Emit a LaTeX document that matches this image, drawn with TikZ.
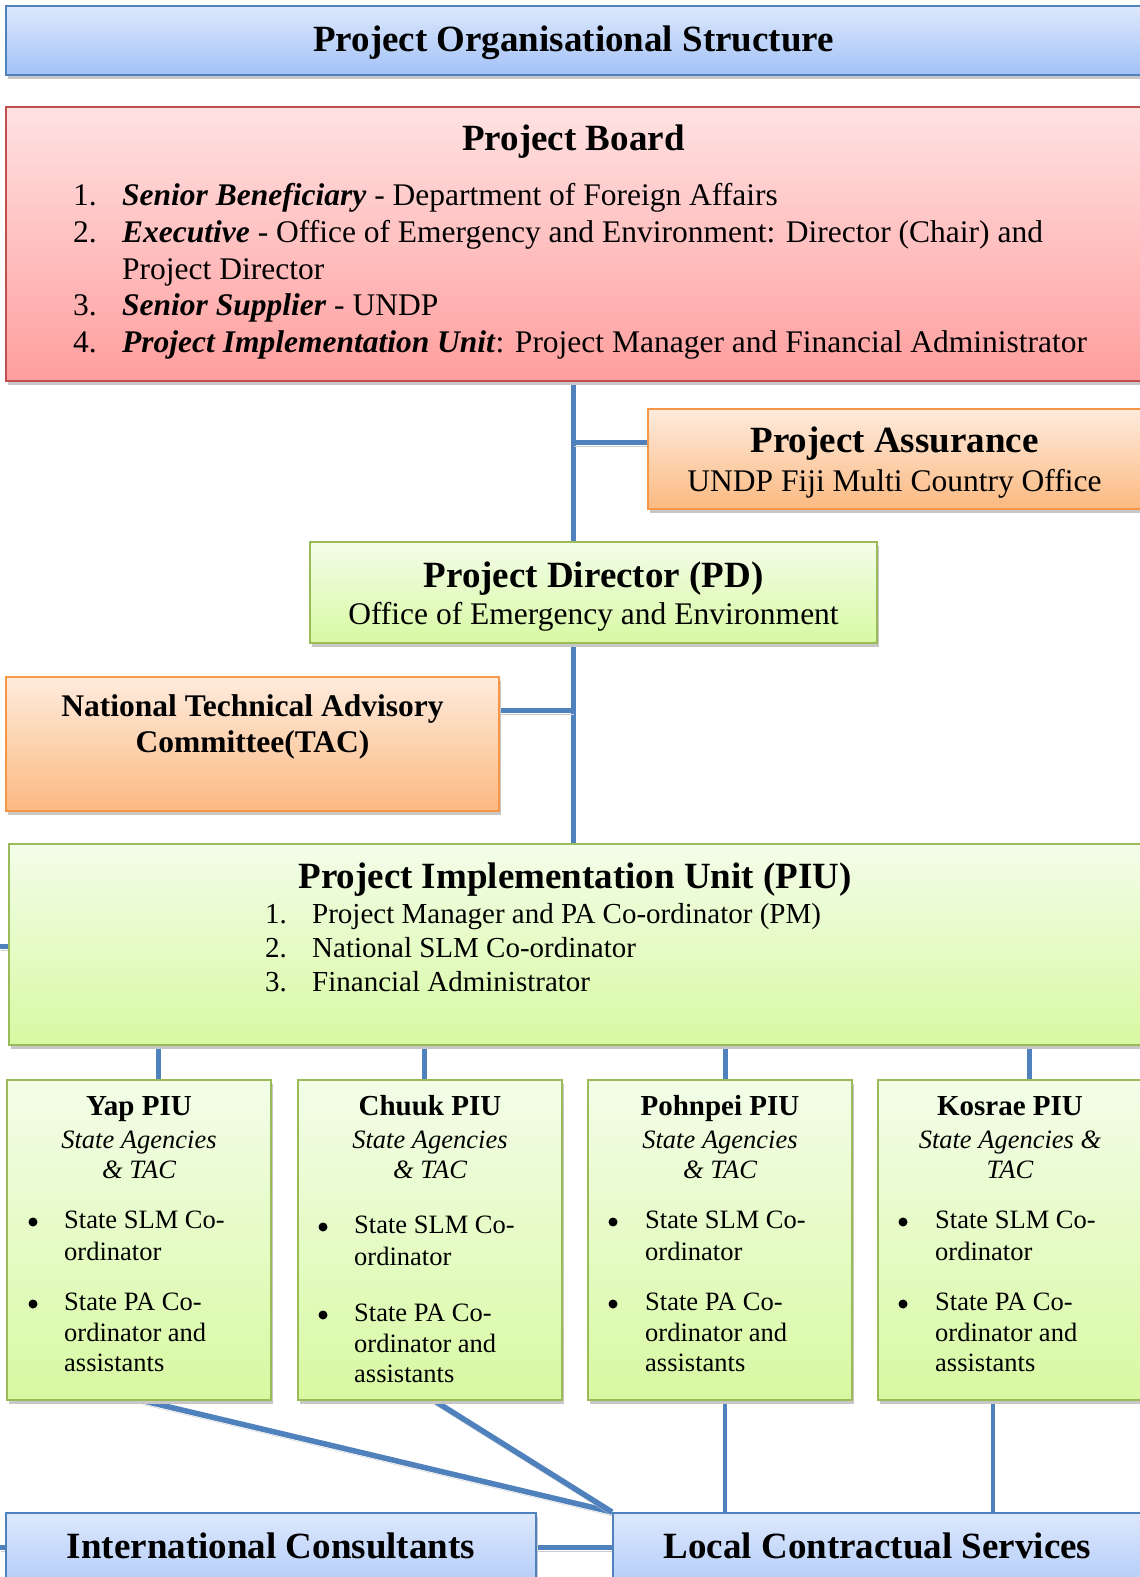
\documentclass[tikz,border=0pt]{standalone}
\usepackage{fontspec}
\setmainfont{Liberation Serif}
\usetikzlibrary{shadows,backgrounds}
\definecolor{LinkClr}{HTML}{4F81BD}
\definecolor{BlueLine}{HTML}{4F81BD}
\definecolor{BlueTop}{HTML}{DDE8FC}
\definecolor{BlueBot}{HTML}{A3C2F7}
\definecolor{RedLine}{HTML}{C0504D}
\definecolor{RedTop}{HTML}{FFE2E2}
\definecolor{RedBot}{HTML}{FF9E9E}
\definecolor{OrgLine}{HTML}{F79646}
\definecolor{OrgTop}{HTML}{FEEBDD}
\definecolor{OrgBot}{HTML}{FBB981}
\definecolor{GrnLine}{HTML}{9BBB59}
\definecolor{GrnTop}{HTML}{F3FDE9}
\definecolor{GrnBot}{HTML}{D8F9A2}
\newcommand\HeadFont{\fontsize{37}{42}\selectfont\bfseries}
\newcommand\BodyFont{\fontsize{31.5}{36}\selectfont}
\newcommand\ListFont{\fontsize{29}{34}\selectfont}
\newcommand\StateFont{\fontsize{26.5}{31}\selectfont}

\begin{document}
\begin{tikzpicture}[x=1pt,y=-1pt,
  box/.style={line width=2pt,anchor=north west,inner sep=0pt,
    drop shadow={shadow xshift=1.5pt,shadow yshift=-4pt,fill=black!22,opacity=1}},
  bluebox/.style={box,draw=BlueLine,top color=BlueTop,bottom color=BlueBot},
  redbox/.style={box,draw=RedLine,top color=RedTop,bottom color=RedBot},
  orgbox/.style={box,draw=OrgLine,top color=OrgTop,bottom color=OrgBot},
  grnbox/.style={box,draw=GrnLine,top color=GrnTop,bottom color=GrnBot},
  link/.style={draw=LinkClr,line width=5pt,
    preaction={draw=black!20,transform canvas={shift={(0.5pt,-4pt)}}}},
  txt/.style={anchor=base,inner sep=0pt},
  numtxt/.style={anchor=base east,inner sep=0pt},
  itemtxt/.style={anchor=base west,inner sep=0pt},
  dot/.style={circle,fill=black,inner sep=0pt,minimum size=9}]
\useasboundingbox (0,0) rectangle (1140,1577);

% title
\node[bluebox,minimum width=1135,minimum height=69] (title) at (5,5) {};
\node[txt,font=\HeadFont] (titletxt) at (title.center |- 0,51) {Project Organisational Structure};

% project board
\node[redbox,minimum width=1135,minimum height=274] (pb) at (5,106) {};
\node[txt,font=\HeadFont] (pbtxt) at (pb.center |- 0,150) {Project Board};
\node[numtxt,font=\BodyFont] (pbn1) at (97,205.5) {1.};
\node[itemtxt,font=\BodyFont] (pbi1) at (122,205.5) {\textbf{\textit{Senior Beneficiary}} - Department of Foreign Affairs};
\node[numtxt,font=\BodyFont] (pbn2) at (97,242) {2.};
\node[itemtxt,font=\BodyFont] (pbi2) at (122,242) {\textbf{\textit{Executive}} - Office of Emergency and Environment: Director (Chair) and};
\node[itemtxt,font=\BodyFont] (pbi2b) at (122,279) {Project Director};
\node[numtxt,font=\BodyFont] (pbn3) at (97,315.5) {3.};
\node[itemtxt,font=\BodyFont] (pbi3) at (122,315.5) {\textbf{\textit{Senior Supplier}} - UNDP};
\node[numtxt,font=\BodyFont] (pbn4) at (97,352.5) {4.};
\node[itemtxt,font=\BodyFont] (pbi4) at (122,352.5) {\textbf{\textit{Project Implementation Unit}}: Project Manager and Financial Administrator};

% project assurance
\node[orgbox,minimum width=493,minimum height=100] (pa) at (647,408) {};
\node[txt,font=\HeadFont] (patxt) at (pa.center |- 0,452.5) {Project Assurance};
\node[txt,font=\BodyFont] (pasub) at (pa.center |- 0,491.5) {UNDP Fiji Multi Country Office};

% project director
\node[grnbox,minimum width=567,minimum height=101] (pd) at (309,541) {};
\node[txt,font=\HeadFont] (pdtxt) at (pd.center |- 0,587.5) {Project Director (PD)};
\node[txt,font=\BodyFont] (pdsub) at (pd.center |- 0,624.5) {Office of Emergency and Environment};

% technical advisory committee
\node[orgbox,minimum width=493,minimum height=134] (tac) at (5,676) {};
\node[txt,font=\BodyFont\bfseries] (tactxt) at (tac.center |- 0,716.5) {National Technical Advisory};
\node[txt,font=\BodyFont\bfseries] (tacsub) at (tac.center |- 0,752) {Committee(TAC)};

% implementation unit
\node[grnbox,minimum width=1132,minimum height=201] (piu) at (8,843) {};
\node[txt,font=\HeadFont] (piutxt) at (piu.center |- 0,888) {Project Implementation Unit (PIU)};
\node[numtxt,font=\ListFont] (piun1) at (287,923) {1.};
\node[itemtxt,font=\ListFont] (piui1) at (312,923) {Project Manager and PA Co-ordinator (PM)};
\node[numtxt,font=\ListFont] (piun2) at (287,957.5) {2.};
\node[itemtxt,font=\ListFont] (piui2) at (312,957.5) {National SLM Co-ordinator};
\node[numtxt,font=\ListFont] (piun3) at (287,991.5) {3.};
\node[itemtxt,font=\ListFont] (piui3) at (312,991.5) {Financial Administrator};

% state units
\node[grnbox,minimum width=264,minimum height=320] (yap) at (6,1078.5) {};
\node[txt,font=\ListFont\bfseries] (yaptxt) at (yap.center |- 0,1115.5) {Yap PIU};
\node[txt,font=\StateFont\itshape] (yapag) at (yap.center |- 0,1148) {State Agencies};
\node[txt,font=\StateFont\itshape] (yaptac) at (yap.center |- 0,1178) {\& TAC};
\node[dot] (yapb1) at (33,1222) {};
\node[itemtxt,font=\StateFont] (yapi1) at (64,1228.5) {State SLM Co-};
\node[itemtxt,font=\StateFont] (yapi1b) at (64,1260) {ordinator};
\node[dot] (yapb2) at (33,1304) {};
\node[itemtxt,font=\StateFont] (yapi2) at (64,1310.5) {State PA Co-};
\node[itemtxt,font=\StateFont] (yapi2b) at (64,1341.5) {ordinator and};
\node[itemtxt,font=\StateFont] (yapi2c) at (64,1371.5) {assistants};

\node[grnbox,minimum width=264,minimum height=320] (chuuk) at (297,1078.5) {};
\node[txt,font=\ListFont\bfseries] (chuuktxt) at (chuuk.center |- 0,1115.5) {Chuuk PIU};
\node[txt,font=\StateFont\itshape] (chuukag) at (chuuk.center |- 0,1148) {State Agencies};
\node[txt,font=\StateFont\itshape] (chuuktac) at (chuuk.center |- 0,1178) {\& TAC};
\node[dot] (chuukb1) at (323,1227) {};
\node[itemtxt,font=\StateFont] (chuuki1) at (354,1233.5) {State SLM Co-};
\node[itemtxt,font=\StateFont] (chuuki1b) at (354,1265) {ordinator};
\node[dot] (chuukb2) at (323,1315) {};
\node[itemtxt,font=\StateFont] (chuuki2) at (354,1321.5) {State PA Co-};
\node[itemtxt,font=\StateFont] (chuuki2b) at (354,1352.5) {ordinator and};
\node[itemtxt,font=\StateFont] (chuuki2c) at (354,1382.5) {assistants};

\node[grnbox,minimum width=264,minimum height=320] (pohnpei) at (587,1078.5) {};
\node[txt,font=\ListFont\bfseries] (pohnpeitxt) at (pohnpei.center |- 0,1115.5) {Pohnpei PIU};
\node[txt,font=\StateFont\itshape] (pohnpeiag) at (pohnpei.center |- 0,1148) {State Agencies};
\node[txt,font=\StateFont\itshape] (pohnpeitac) at (pohnpei.center |- 0,1178) {\& TAC};
\node[dot] (pohnpeib1) at (613,1222) {};
\node[itemtxt,font=\StateFont] (pohnpeii1) at (645,1228.5) {State SLM Co-};
\node[itemtxt,font=\StateFont] (pohnpeii1b) at (645,1260) {ordinator};
\node[dot] (pohnpeib2) at (613,1304) {};
\node[itemtxt,font=\StateFont] (pohnpeii2) at (645,1310.5) {State PA Co-};
\node[itemtxt,font=\StateFont] (pohnpeii2b) at (645,1341.5) {ordinator and};
\node[itemtxt,font=\StateFont] (pohnpeii2c) at (645,1371.5) {assistants};

\node[grnbox,minimum width=264,minimum height=320] (kosrae) at (877,1078.5) {};
\node[txt,font=\ListFont\bfseries] (kosraetxt) at (kosrae.center |- 0,1115.5) {Kosrae PIU};
\node[txt,font=\StateFont\itshape] (kosraeag) at (kosrae.center |- 0,1148) {State Agencies \&};
\node[txt,font=\StateFont\itshape] (kosraetac) at (kosrae.center |- 0,1178) {TAC};
\node[dot] (kosraeb1) at (903,1222) {};
\node[itemtxt,font=\StateFont] (kosraei1) at (935,1228.5) {State SLM Co-};
\node[itemtxt,font=\StateFont] (kosraei1b) at (935,1260) {ordinator};
\node[dot] (kosraeb2) at (903,1304) {};
\node[itemtxt,font=\StateFont] (kosraei2) at (935,1310.5) {State PA Co-};
\node[itemtxt,font=\StateFont] (kosraei2b) at (935,1341.5) {ordinator and};
\node[itemtxt,font=\StateFont] (kosraei2c) at (935,1371.5) {assistants};

% consultants and services
\node[bluebox,minimum width=530,minimum height=100] (ic) at (5,1512) {};
\node[txt,font=\HeadFont] (ictxt) at (ic.center |- 0,1558.5) {International Consultants};
\node[bluebox,minimum width=529,minimum height=100] (lcs) at (612,1512) {};
\node[txt,font=\HeadFont] (lcstxt) at (lcs.center |- 0,1558.5) {Local Contractual Services};

\coordinate (stubpiu) at (0,946);
\coordinate (stubic) at (0,1547);

\begin{scope}[on background layer]
\draw[link] (pb.south) -- (pb.south |- pd.north);
\draw[link] (pb.south |- pa.west) ++(0,-17) -- ([yshift=17pt]pa.west);
\draw[link] (pb.south |- pd.south) -- (pb.south |- piu.north);
\draw[link] (pb.south |- tac.east) ++(0,-34) -- ([yshift=34pt]tac.east);
\draw[link] (stubpiu) -- (stubpiu -| piu.west);
\draw[link] ([xshift=19pt]yap.north) -- ([xshift=19pt]yap.north |- piu.south);
\draw[link] ([xshift=-6pt]chuuk.north) -- ([xshift=-6pt]chuuk.north |- piu.south);
\draw[link] ([xshift=5pt]pohnpei.north) -- ([xshift=5pt]pohnpei.north |- piu.south);
\draw[link] ([xshift=19pt]kosrae.north) -- ([xshift=19pt]kosrae.north |- piu.south);
\draw[link,line width=5.5pt] ([xshift=3pt]yap.south) -- (lcs.north west);
\draw[link,line width=5.5pt] ([xshift=4pt]chuuk.south) -- (lcs.north west);
\draw[link,line width=4pt] ([xshift=5pt]pohnpei.south) -- ([xshift=5pt]pohnpei.south |- lcs.north);
\draw[link,line width=4pt] ([xshift=-17pt]kosrae.south) -- ([xshift=-17pt]kosrae.south |- lcs.north);
\draw[link] (ic.east |- stubic) -- (lcs.west |- stubic);
\draw[link] (stubic) -- (stubic -| ic.west);
\end{scope}
\end{tikzpicture}
\end{document}
